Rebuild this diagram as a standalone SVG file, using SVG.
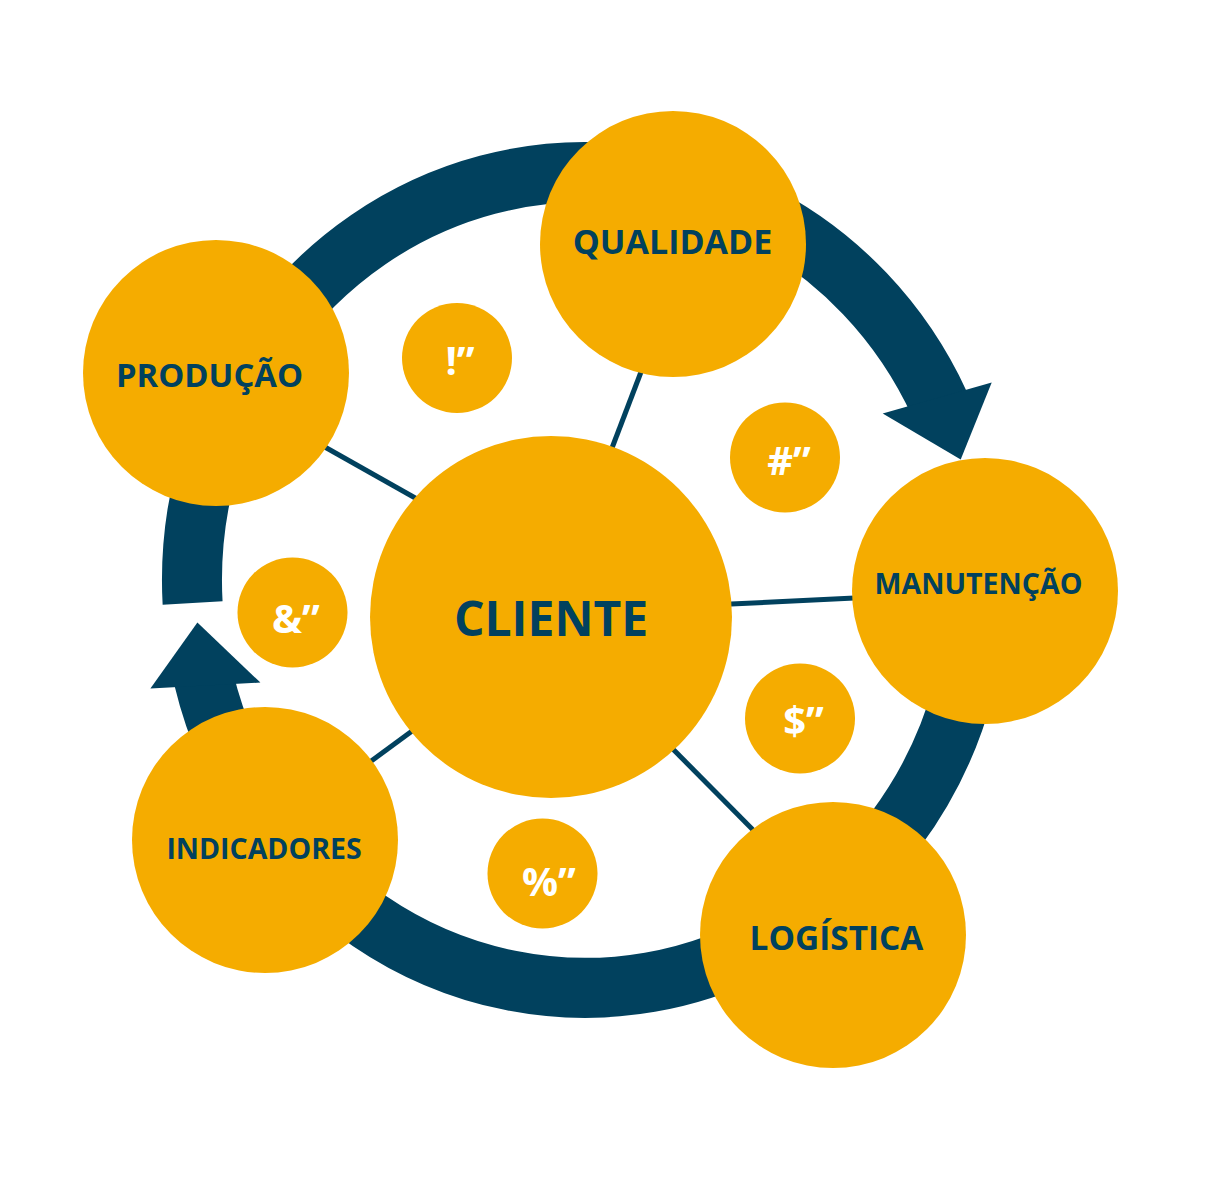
<svg xmlns="http://www.w3.org/2000/svg" width="1228" height="1190" viewBox="0 0 1228 1190">
<style>
.ring{fill:none;stroke:#01415e;stroke-width:60;stroke-linecap:butt}
.head{fill:#01415e}
.link{stroke:#01415e;stroke-width:5;fill:none}
.big{fill:#f5ac00}
.lbl{font-family:"Open Sans","Noto Sans",sans-serif;font-weight:700;fill:#01415e;text-anchor:middle}
.sym{font-family:"Open Sans","Noto Sans",sans-serif;font-weight:700;fill:#ffffff;text-anchor:middle;font-size:40px}
</style>
<rect width="1228" height="1190" fill="#ffffff"/>
<g id="cycle">
<path class="ring" d="M192.6,603 A393,408 0 0 1 939.7,404.4"/>
<polygon class="head" points="882.7,413.5 960.7,459.5 991.7,382.5"/>
<path class="ring" d="M976.5,544.4 A393,408 0 0 1 203.7,678.7"/>
<polygon class="head" points="150.4,688.6 197.4,622.6 260.4,682.6"/>
</g>
<g id="connectors">
<line class="link" x1="603.6" y1="470" x2="649.4" y2="350"/>
<line class="link" x1="300" y1="433" x2="440" y2="512"/>
<line class="link" x1="720" y1="604.6" x2="870" y2="597.2"/>
<line class="link" x1="660" y1="736" x2="765" y2="842"/>
<line class="link" x1="425" y1="721.4" x2="355" y2="773"/>
</g>
<g id="qualidade"><circle class="big" cx="673" cy="244" r="133"/><text class="lbl" x="672.5" y="254" font-size="34">QUALIDADE</text></g>
<g id="producao"><circle class="big" cx="216" cy="373" r="133"/><text class="lbl" x="209.5" y="387" font-size="32.8">PRODUÇÃO</text></g>
<g id="manutencao"><circle class="big" cx="985" cy="591" r="133"/><text class="lbl" x="978.5" y="594" font-size="28.6">MANUTENÇÃO</text></g>
<g id="logistica"><circle class="big" cx="833" cy="935" r="133"/><text class="lbl" x="836.5" y="950" font-size="33.4">LOGÍSTICA</text></g>
<g id="indicadores"><circle class="big" cx="265" cy="840" r="133"/><text class="lbl" x="264" y="859" font-size="28.5">INDICADORES</text></g>
<g id="cliente"><circle class="big" cx="551" cy="617" r="181"/><text class="lbl" x="551" y="636" font-size="48">CLIENTE</text></g>
<g id="s1"><circle class="big" cx="457" cy="358" r="55"/><text class="sym" x="460" y="375">!”</text></g>
<g id="s2"><circle class="big" cx="785" cy="457.5" r="55"/><text class="sym" x="789" y="475">#”</text></g>
<g id="s3"><circle class="big" cx="292.5" cy="612.5" r="55"/><text class="sym" x="296" y="633">&amp;”</text></g>
<g id="s4"><circle class="big" cx="800" cy="718.5" r="55"/><text class="sym" x="803.5" y="735">$”</text></g>
<g id="s5"><circle class="big" cx="542.5" cy="873.5" r="55"/><text class="sym" x="549" y="896">%”</text></g>
</svg>
